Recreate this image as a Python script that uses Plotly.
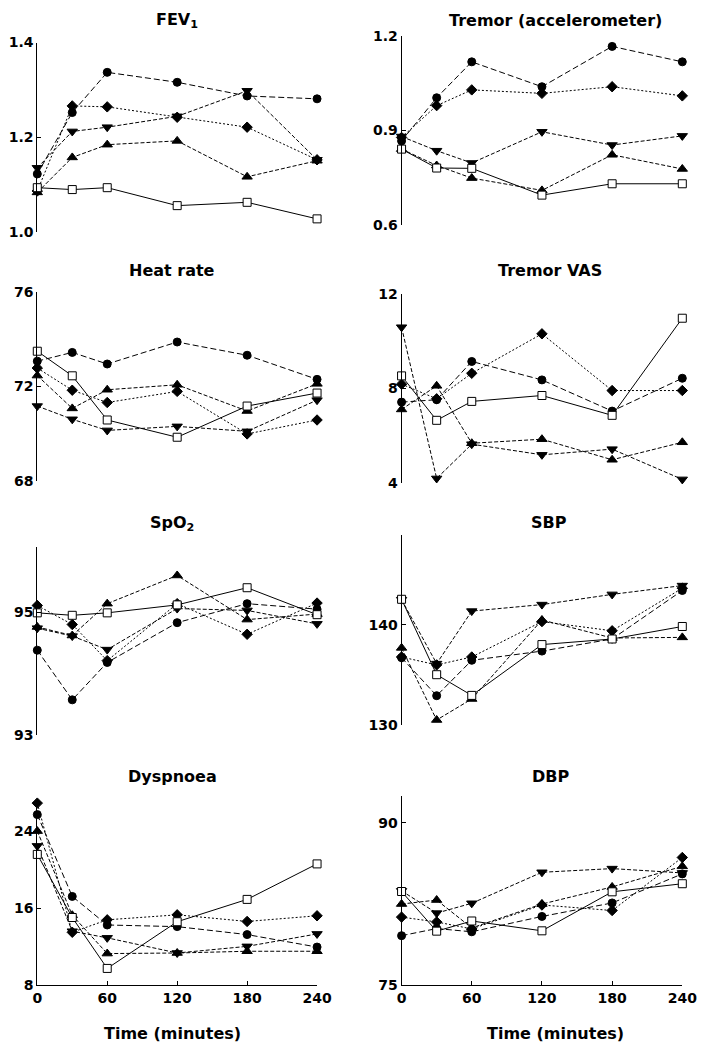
import plotly.graph_objects as go

TIME = [0, 30, 60, 120, 180, 240]
X_TICKS = [0, 60, 120, 180, 240]

# Series order: open square (placebo), circle, diamond, triangle-up, triangle-down
fev1 = {
    "square": [1.093, 1.089, 1.093, 1.055, 1.062, 1.027],
    "circle": [1.122, 1.252, 1.337, 1.316, 1.287, 1.281],
    "diamond": [1.086, 1.266, 1.264, 1.242, 1.221, 1.152],
    "up": [1.083, 1.157, 1.184, 1.192, 1.116, 1.150],
    "down": [1.135, 1.212, 1.221, 1.244, 1.298, 1.152],
}
tremor_acc = {
    "square": [0.840, 0.780, 0.779, 0.694, 0.730, 0.730],
    "circle": [0.866, 1.003, 1.117, 1.038, 1.166, 1.117],
    "diamond": [0.877, 0.978, 1.028, 1.017, 1.038, 1.009],
    "up": [0.840, 0.788, 0.748, 0.709, 0.822, 0.777],
    "down": [0.880, 0.835, 0.796, 0.895, 0.853, 0.882],
}
heart_rate = {
    "square": [73.48, 72.44, 70.57, 69.84, 71.16, 71.71],
    "circle": [73.06, 73.43, 72.94, 73.87, 73.31, 72.29],
    "diamond": [72.77, 71.83, 71.31, 71.78, 69.98, 70.57],
    "up": [72.45, 71.06, 71.85, 72.06, 70.95, 72.10],
    "down": [71.16, 70.60, 70.13, 70.30, 70.09, 71.41],
}
tremor_vas = {
    "square": [8.52, 6.64, 7.44, 7.69, 6.85, 10.96],
    "circle": [7.41, 7.51, 9.13, 8.35, 7.03, 8.42],
    "diamond": [8.17, 7.55, 8.63, 10.30, 7.90, 7.90],
    "up": [7.10, 8.10, 5.67, 5.84, 4.97, 5.71],
    "down": [10.58, 4.18, 5.63, 5.18, 5.42, 4.14],
}
spo2 = {
    "square": [94.99, 94.95, 94.99, 95.12, 95.40, 94.96],
    "circle": [94.38, 93.57, 94.18, 94.83, 95.14, 95.05],
    "diamond": [95.11, 94.80, 94.21, 95.14, 94.64, 95.15],
    "up": [94.76, 94.62, 95.14, 95.60, 94.88, 94.97],
    "down": [94.74, 94.61, 94.39, 95.06, 95.03, 94.81],
}
sbp = {
    "square": [142.56, 135.02, 132.95, 138.03, 138.59, 139.84],
    "circle": [136.72, 132.92, 136.46, 137.38, 138.59, 143.44],
    "diamond": [136.79, 136.00, 136.79, 140.33, 139.41, 143.67],
    "up": [137.70, 130.49, 132.59, 140.49, 138.69, 138.75],
    "down": [142.52, 136.13, 141.38, 142.03, 143.05, 143.93],
}
dyspnoea = {
    "square": [21.60, 15.02, 9.71, 14.58, 16.91, 20.61],
    "circle": [25.75, 17.22, 14.24, 14.07, 13.24, 11.94],
    "diamond": [26.95, 13.48, 14.78, 15.30, 14.61, 15.20],
    "up": [24.03, 15.26, 11.26, 11.32, 11.50, 11.50],
    "down": [22.49, 13.59, 12.90, 11.32, 12.01, 13.31],
}
dbp = {
    "square": [83.64, 79.97, 80.91, 80.00, 83.61, 84.36],
    "circle": [79.55, 80.21, 79.91, 81.33, 82.58, 85.27],
    "diamond": [81.27, 80.82, 80.18, 82.39, 81.88, 86.79],
    "up": [82.48, 82.85, 80.27, 82.48, 84.06, 85.97],
    "down": [83.70, 81.64, 82.55, 85.42, 85.76, 85.36],
}

TITLES = ["FEV<sub>1</sub>", "Tremor (accelerometer)", "Heat rate", "Tremor VAS",
          "SpO<sub>2</sub>", "SBP", "Dyspnoea", "DBP"]
PANELS = [fev1, tremor_acc, heart_rate, tremor_vas, spo2, sbp, dyspnoea, dbp]
Y_RANGES = [[1.0, 1.4], [0.6, 1.2], [68, 76], [4, 12], [93, 96.07], [130, 149], [8, 27.2], [75, 92.5]]
Y_TICKS = [[1.0, 1.2, 1.4], [0.6, 0.9, 1.2], [68, 72, 76], [4, 8, 12], [93, 95], [130, 140], [8, 16, 24], [75, 90]]
Y_TICKTEXT = [["1.0", "1.2", "1.4"], ["0.6", "0.9", "1.2"], ["68", "72", "76"], ["4", "8", "12"],
              ["93", "95"], ["130", "140"], ["8", "16", "24"], ["75", "90"]]

# The page body has an 8px margin; size the figure so the page is exactly 716x1054
PAGE_W, PAGE_H, BODY_MARGIN = 716, 1054, 8
W, H = PAGE_W - 2 * BODY_MARGIN, PAGE_H - 2 * BODY_MARGIN


def fx(px):
    return (px - BODY_MARGIN) / W


def fy(py):
    return 1 - (py - BODY_MARGIN) / H


# page-pixel boxes: (left, right, top, bottom)
BOXES = [
    (33, 321, 35, 227), (408, 697, 28, 220),
    (33, 321, 288, 480), (408, 697, 290, 482),
    (33, 321, 547, 738), (408, 697, 535, 728),
    (33, 321, 805, 992), (408, 697, 800, 992),
]
TITLE_POS = [(177, 13), (566, 13), (172, 266), (561, 266), (172, 523), (560, 522), (172, 780), (561, 780)]

STYLES = {
    "circle": dict(symbol="circle", size=8, fill="black", dash="6px,3px"),
    "diamond": dict(symbol="diamond", size=8, fill="black", dash="2px,2px"),
    "up": dict(symbol="triangle-up", size=9, fill="black", dash="4px,2px"),
    "down": dict(symbol="triangle-down", size=9, fill="black", dash="4px,2px"),
    "square": dict(symbol="square", size=8, fill="white", dash="solid"),
}
ORDER = ["circle", "diamond", "up", "down", "square"]

FONT = "DejaVu Sans"
fig = go.Figure()
layout = dict(width=W, height=H, margin=dict(l=0, r=0, t=0, b=0),
              paper_bgcolor="white", plot_bgcolor="white", showlegend=False,
              font=dict(family=FONT, color="black"))
annotations = []

for i, panel in enumerate(PANELS):
    n = "" if i == 0 else str(i + 1)
    xa, ya = "x" + n, "y" + n
    for key in ORDER:
        st = STYLES[key]
        fig.add_trace(go.Scatter(
            x=TIME, y=panel[key], xaxis=xa, yaxis=ya, mode="lines+markers",
            cliponaxis=False,
            line=dict(color="black", width=1, dash=st["dash"]),
            marker=dict(symbol=st["symbol"], size=st["size"], color=st["fill"],
                        line=dict(color="black", width=1)),
        ))
    l, r, t, b = BOXES[i]
    bottom = i >= 6
    layout["xaxis" + n] = dict(
        domain=[fx(l), fx(r)], range=[0, 240], anchor=ya,
        showline=bottom, linecolor="black", linewidth=1,
        ticks="inside" if bottom else "", ticklen=4, tickcolor="black",
        tickvals=X_TICKS, showticklabels=bottom, showgrid=False, zeroline=False,
        tickfont=dict(family=FONT, size=14, weight="bold", color="black"),
    )
    layout["yaxis" + n] = dict(
        domain=[fy(b), fy(t)], range=Y_RANGES[i], anchor=xa,
        showline=True, linecolor="black", linewidth=1,
        ticks="inside", ticklen=4, tickcolor="black",
        tickvals=Y_TICKS[i], ticktext=Y_TICKTEXT[i], showgrid=False, zeroline=False,
        tickfont=dict(family=FONT, size=14, weight="bold", color="black"),
    )
    tx, ty = TITLE_POS[i]
    annotations.append(dict(text=TITLES[i], x=fx(tx), y=fy(ty), xref="paper", yref="paper",
                            showarrow=False, xanchor="center", yanchor="middle",
                            font=dict(family=FONT, size=16, weight="bold", color="black")))

for cx in (172, 566):
    annotations.append(dict(text="Time (minutes)", x=fx(cx), y=fy(1041), xref="paper", yref="paper",
                            showarrow=False, xanchor="center", yanchor="middle",
                            font=dict(family=FONT, size=16, weight="bold", color="black")))

layout["annotations"] = annotations
fig.update_layout(**layout)
fig.write_html("out.html")
